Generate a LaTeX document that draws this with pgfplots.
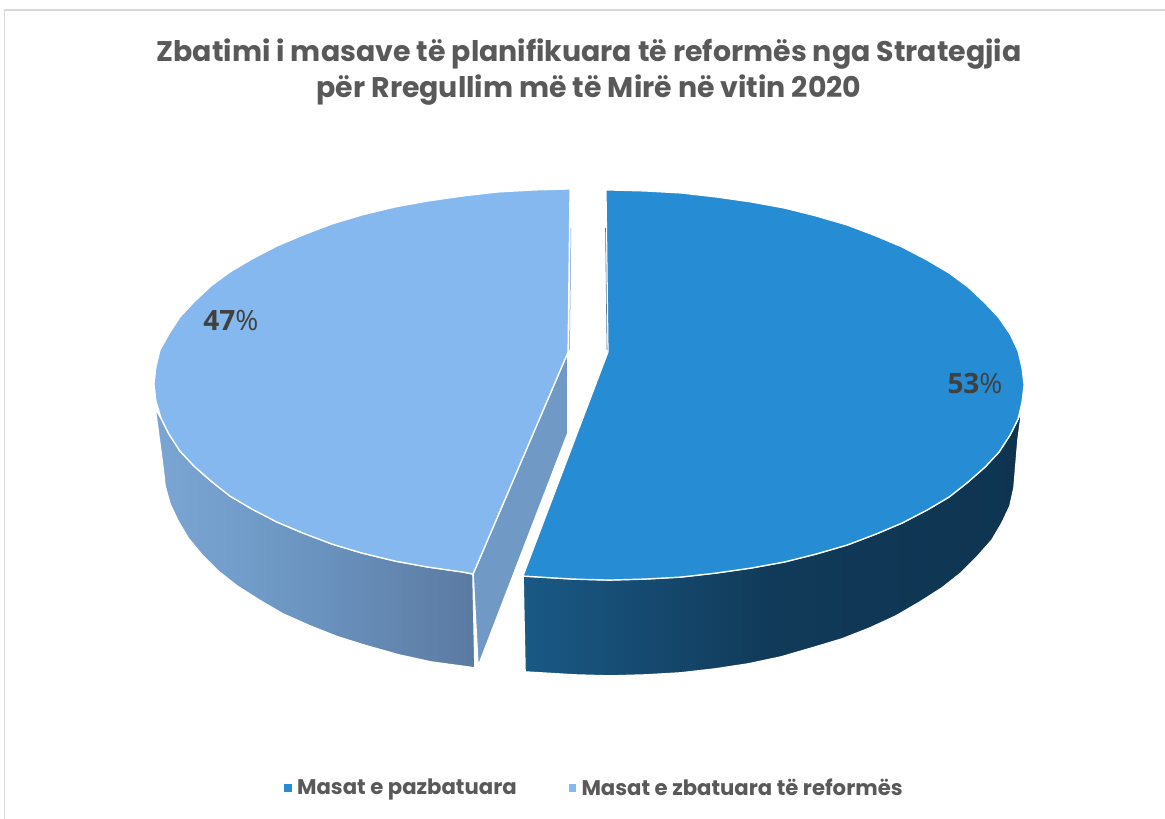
\documentclass[border=0pt]{standalone}
\usepackage{fontspec}
\setmainfont{Poppins}
\newfontfamily\labelfont{Open Sans}
\usepackage{pgfplots}
\pgfplotsset{compat=1.18}

\definecolor{titlegray}{HTML}{595959}
\definecolor{labelgray}{HTML}{404040}
\definecolor{framegray}{HTML}{D9D9D9}
\definecolor{bluetop}{HTML}{268CD3}
\definecolor{lighttop}{HTML}{85B8EE}
\definecolor{lightinner}{HTML}{7099C6}
\definecolor{lightsideL}{HTML}{7BA6D4}
\definecolor{lightsideM}{HTML}{6A93BF}
\definecolor{lightsideR}{HTML}{5B7AA1}
\definecolor{bluesideL}{HTML}{195985}
\definecolor{bluesideM}{HTML}{113A59}
\definecolor{bluesideR}{HTML}{0E3450}

\begin{document}
\begin{tikzpicture}
\begin{axis}[
    scale only axis,
    width=1165pt,
    height=819pt,
    xmin=0,xmax=1165,
    ymin=0,ymax=819,
    y dir=reverse,
    axis lines=none,
    ticks=none,
    title={Zbatimi i masave të planifikuara të reformës nga Strategjia\\për Rregullim më të Mirë në vitin 2020},
    title style={at={(axis description cs:0.5056,0.905)},anchor=center,align=center,
        font=\fontsize{28.4}{36}\selectfont\bfseries,text=titlegray},
    legend style={at={(axis description cs:0.5103,0.038)},anchor=center,draw=none,fill=none,
        font=\fontsize{21.2}{25}\selectfont\bfseries,text=titlegray,
        legend columns=2,
        /tikz/every odd column/.append style={column sep=4pt},
        /tikz/every even column/.append style={column sep=50pt}},
    legend cell align=left,
]
% cadre
\addplot[framegray,line width=1.6pt,forget plot] coordinates {(4.5,819) (4.5,10) (1165,10)};

% cote interieur de la part claire
\addplot[fill=lightinner,draw=white,line width=1.6pt,forget plot] coordinates {
    (568,352) (568,433) (478,667) (473,574) (568,352)};

% flanc de la part claire
\addplot[left color=lightsideL,right color=lightsideR,middle color=lightsideM,draw=white,line width=1.6pt,forget plot] coordinates {
    (155,408) (160,445) (163,468) (165,486) (170,504) (178,521) (188,538) (202,555)
    (218,571) (237,586) (259,600) (283,614) (310,626) (338,637) (367,646) (399,655)
    (431,662) (475,668) (473,574) (463,572) (428,567) (395,561) (362,553) (332,544)
    (303,533) (277,522) (252,509) (230,496) (211,481) (194,466) (180,451) (169,434)
    (161,418) (155,408)};

% flanc de la part foncee
\addplot[left color=bluesideL,right color=bluesideR,middle color=bluesideM,draw=white,line width=1.6pt,forget plot] coordinates {
    (1022,410) (1018,440) (1014,488) (1010,506) (1002,523) (992,540) (977,557) (961,573)
    (942,588) (920,602) (896,616) (870,628) (842,639) (812,648) (781,657) (748,664)
    (715,669) (680,673) (645,675) (610,676) (575,675) (525,672) (523,576) (573,579)
    (609,580) (645,579) (681,577) (716,573) (751,568) (784,562) (816,554) (847,545)
    (876,534) (902,523) (927,510) (949,497) (968,482) (985,467) (999,452) (1010,435)
    (1018,419) (1022,410)};

% face superieure, part claire
\addplot[fill=lighttop,draw=white,line width=1.2pt,forget plot] coordinates {
    (570,189) (534,190) (498,192) (463,196) (428,201) (395,207) (362,215) (332,224)
    (303,235) (277,246) (252,259) (230,272) (211,286) (194,302) (180,317) (169,334)
    (160,350) (156,367) (154,384) (156,401) (161,418) (169,434) (180,451) (194,466)
    (211,481) (230,496) (252,509) (277,522) (303,533) (332,544) (362,553) (395,561)
    (428,567) (463,572) (473,574) (568,352) (570,189)};

% face superieure, part foncee
\addplot[fill=bluetop,draw=white,line width=1.2pt,forget plot] coordinates {
    (606,190) (609,190) (645,191) (681,193) (716,197) (751,202) (784,208) (816,216)
    (847,225) (876,236) (902,247) (927,260) (949,273) (968,287) (985,303) (999,318)
    (1010,334) (1018,351) (1022,368) (1024,385) (1022,402) (1018,419) (1010,435)
    (999,452) (985,467) (968,482) (949,497) (927,510) (902,523) (876,534) (847,545)
    (816,554) (784,562) (751,568) (716,573) (681,577) (645,579) (609,580) (573,579)
    (523,576) (608,352) (606,190)};

% filets sombres le long des coupes
\addplot[color=lightinner,line width=0.5pt,forget plot] coordinates {(571,228) (569.5,350)};
\addplot[color=bluesideM!70,line width=0.6pt,forget plot] coordinates {(605.5,228) (607,350)};

% legende
\addlegendimage{only marks,mark=square*,mark size=3.4pt,color=bluetop}
\addlegendentry{Masat e pazbatuara}
\addlegendimage{only marks,mark=square*,mark size=3.4pt,color=lighttop}
\addlegendentry{Masat e zbatuara të reformës}

% etiquettes
\node[text=labelgray,font=\labelfont\fontsize{28}{32}\selectfont] at (axis cs:975,383) {\textbf{53}\%};
\node[text=labelgray,font=\labelfont\fontsize{28}{32}\selectfont] at (axis cs:231,320) {\textbf{47}\%};
\end{axis}
\pgfresetboundingbox
\path[use as bounding box] (0,0) rectangle (1165pt,819pt);
\end{tikzpicture}
\end{document}
